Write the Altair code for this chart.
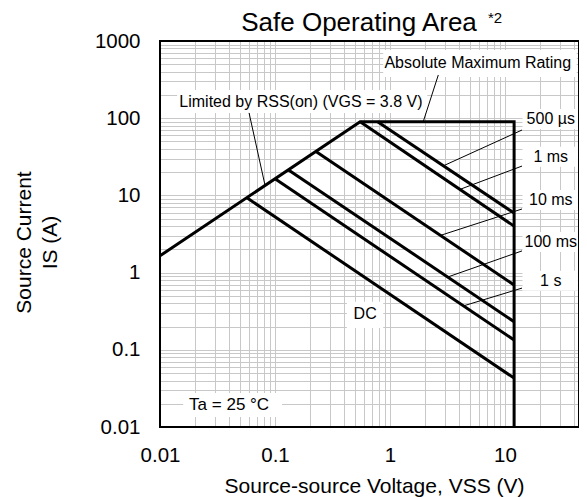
import altair as alt
import pandas as pd

FONT = "Liberation Sans"

# ---- data (V in volts, I in amperes) ----
# SOA outline: RSS(on) limit -> absolute maximum current -> maximum VSS
boundary_v = [0.01, 0.55, 12.0, 12.0]
boundary_i = [1.65, 90.0, 90.0, 0.01]

# pulse-width limited lines (start point -> end point at VSS max)
pulse_names = ["500 µs", "1 ms", "10 ms", "100 ms", "1 s", "DC"]
pulse_v_start = [0.78, 0.55, 0.227, 0.131, 0.100, 0.057]
pulse_i_start = [90.0, 90.0, 37.1, 21.4, 16.4, 9.3]
pulse_v_end = [12.0, 12.0, 12.0, 12.0, 12.0, 12.0]
pulse_i_end = [5.9, 4.0, 0.69, 0.231, 0.134, 0.043]

# annotations
label_text = ["Absolute Maximum Rating", "Limited by RSS(on) (VGS = 3.8 V)",
              "500 µs", "1 ms", "10 ms", "100 ms", "1 s", "DC", "Ta = 25 °C"]
label_v = [5.8, 0.168, 25.0, 25.0, 25.0, 25.0, 25.0, 0.608, 0.0399]
label_i = [519, 164, 97.7, 31.7, 8.72, 2.49, 0.785, 0.291, 0.0193]
label_size = [16, 16, 16, 16, 16, 16, 16, 16, 17]

box_v1 = [0.873, 0.0141, 14.2, 14.2, 14.2, 14.2, 14.2, 0.422, 0.0159]
box_v2 = [42.0, 2.11, 43.0, 43.0, 43.0, 43.0, 43.0, 0.873, 0.115]
box_i1 = [764, 232, 131.7, 42.7, 11.75, 3.36, 1.06, 0.42, 0.0275]
box_i2 = [341, 117, 72.5, 23.5, 6.47, 1.85, 0.58, 0.191, 0.0135]

leader_v1 = [2.63, 0.0595, 14.06, 14.06, 14.06, 14.06, 14.06]
leader_i1 = [363, 117, 70.3, 24.0, 6.67, 1.91, 0.63]
leader_v2 = [1.945, 0.082, 2.90, 4.08, 2.74, 3.13, 4.34]
leader_i2 = [90, 13.4, 24.1, 12.0, 3.03, 0.87, 0.37]

decades = [0.01, 0.1, 1, 10, 100, 1000]
x_ticks = [round(d * 10 ** k, 4) for k in range(-2, 2) for d in range(1, 10)]
x_ticks = [v for v in x_ticks if v <= 44]
y_ticks = [round(d * 10 ** k, 4) for k in range(-2, 3) for d in range(1, 10)] + [1000]

# ---- tables ----
rows = []
for j, (v, i) in enumerate(zip(boundary_v, boundary_i)):
    rows.append({"series": "boundary", "ord": j, "V": v, "I": i})
for n, v0, i0, v1, i1 in zip(pulse_names, pulse_v_start, pulse_i_start, pulse_v_end, pulse_i_end):
    rows.append({"series": n, "ord": 0, "V": v0, "I": i0})
    rows.append({"series": n, "ord": 1, "V": v1, "I": i1})
lines_df = pd.DataFrame(rows)

labels_df = pd.DataFrame({"t": label_text, "V": label_v, "I": label_i, "s": label_size})
boxes_df = pd.DataFrame({"V": box_v1, "V2": box_v2, "I": box_i1, "I2": box_i2})
leaders_df = pd.DataFrame({"V": leader_v1, "I": leader_i1, "V2": leader_v2, "I2": leader_i2})

label_expr = ("indexof(" + str(decades) + ", datum.value) >= 0 ? format(datum.value, '~g') : ''")

W, H = 419, 386
xscale = alt.Scale(type="log", domain=[0.01, 44], nice=False)
yscale = alt.Scale(type="log", domain=[0.01, 1000], nice=False)

xaxis = alt.Axis(values=x_ticks, labelExpr=label_expr, grid=True, gridColor="#c8c8c8",
                 gridWidth=1, domain=False, ticks=False, tickSize=0, labelPadding=18,
                 labelFontSize=20.5, labelFont=FONT, labelColor="black", labelFlush=False,
                 labelOverlap=False, title="Source-source Voltage, VSS (V)", titleFont=FONT,
                 titleFontSize=21, titleFontWeight="normal", titleColor="black", titleY=48,
                 titleX=214)
yaxis = alt.Axis(values=y_ticks, labelExpr=label_expr, grid=True, gridColor="#c8c8c8",
                 gridWidth=1, domain=False, ticks=False, tickSize=0, labelPadding=20,
                 labelFontSize=20.5, labelFont=FONT, labelColor="black", labelFlush=False,
                 labelOverlap=False, title=["Source Current", "IS (A)"], titleFont=FONT,
                 titleFontSize=21, titleFontWeight="normal", titleColor="black",
                 titleLineHeight=26, titleX=-126, titleY=201, titleBaseline="bottom",
                 titleAngle=270)

X = alt.X("V:Q", scale=xscale, axis=xaxis)
Y = alt.Y("I:Q", scale=yscale, axis=yaxis)

boxes = alt.Chart(boxes_df).mark_rect(fill="white", stroke=None).encode(
    x=X, x2="V2:Q", y=Y, y2="I2:Q")

lines = alt.Chart(lines_df).mark_line(color="black", strokeWidth=3, strokeJoin="miter",
                                      clip=True).encode(
    x=X, y=Y, detail="series:N", order="ord:O")

leaders = alt.Chart(leaders_df).mark_rule(color="black", strokeWidth=1).encode(
    x=X, x2="V2:Q", y=Y, y2="I2:Q")

labels = alt.Chart(labels_df).mark_text(font=FONT, color="black", align="center",
                                        baseline="middle").encode(
    x=X, y=Y, text="t:N", size=alt.Size("s:Q", scale=None, legend=None))

frame_df = pd.DataFrame({"k": [0]})
frame = alt.Chart(frame_df).mark_rect(fill=None, stroke="black", strokeWidth=2).encode(
    x=alt.value(0), x2=alt.value(W), y=alt.value(0), y2=alt.value(H))

title_df = pd.DataFrame({"t": ["Safe Operating Area"]})
title = alt.Chart(title_df).mark_text(font=FONT, fontSize=26, color="black", align="center",
                                      baseline="alphabetic").encode(
    x=alt.value(199), y=alt.value(-10.5), text="t:N")
sup_df = pd.DataFrame({"t": ["*2"]})
sup = alt.Chart(sup_df).mark_text(font=FONT, fontSize=15, color="black", align="center",
                                  baseline="alphabetic").encode(
    x=alt.value(335), y=alt.value(-18), text="t:N")

chart = alt.layer(boxes, lines, leaders, labels, frame, title, sup).properties(
    width=W, height=H,
    autosize=alt.AutoSizeParams(type="none"),
    padding={"left": 152, "top": 33, "right": 0, "bottom": 70},
).configure(background="white", view=alt.ViewConfig(stroke=None))

chart.save("out.html", embed_options={"renderer": "svg", "actions": False})
